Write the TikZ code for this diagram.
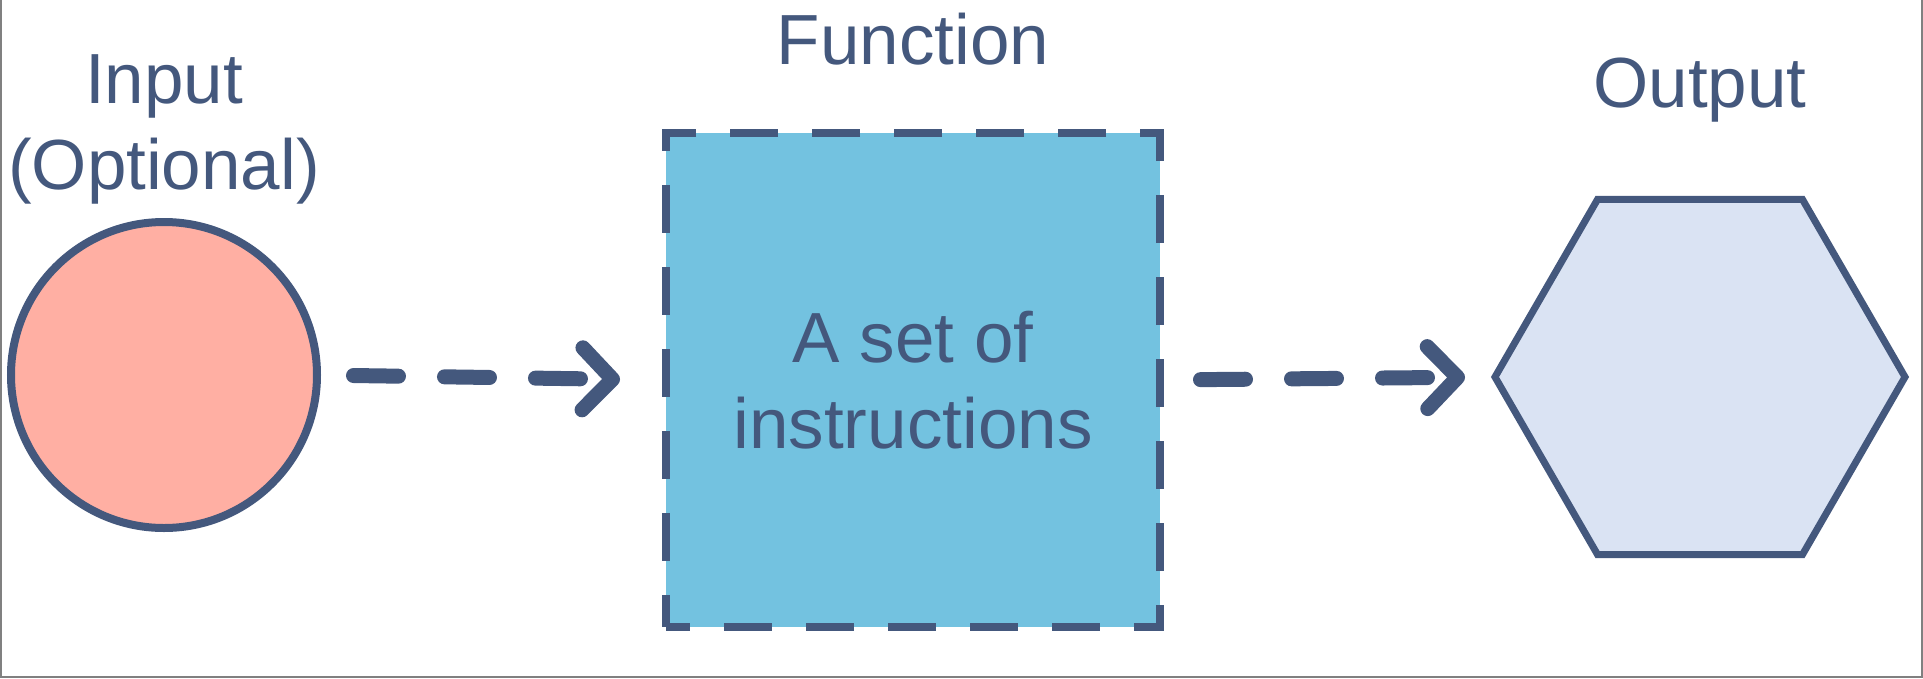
\documentclass[tikz,border=0pt]{standalone}
\usepackage{xcolor}
\usepackage{fontspec}
\setmainfont{Liberation Sans}
\usetikzlibrary{positioning,arrows.meta,shapes.geometric}
\definecolor{ink}{HTML}{44587D}
\definecolor{salmon}{HTML}{FFAFA3}
\definecolor{sky}{HTML}{73C2E0}
\definecolor{pale}{HTML}{DAE3F3}
\begin{document}
\begin{tikzpicture}[x=1pt,y=-1pt,
  every node/.style={inner sep=0pt,outer sep=0pt,text=ink,font=\fontsize{71}{86}\selectfont},
  link/.style={ink,line width=15pt,line cap=round,dash pattern=on 45pt off 46pt,
    -{Straight Barb[length=30pt,width=62pt,line width=15pt 0,round]}}]
\useasboundingbox (0,0) rectangle (1923,678);
\draw[gray,line width=2pt] (1,0) -- (1,677) -- (1922,677) -- (1922,0);
% the three boxes
\node[circle,draw=ink,fill=salmon,line width=8pt,minimum size=306pt] (in) at (164,375) {};
\node[rectangle,draw=ink,fill=sky,line width=8pt,minimum size=494pt,
  dash pattern=on 48pt off 34pt,dash phase=24pt,align=center] (fn) at (913,380)
  {A set of\\instructions};
\node[regular polygon,regular polygon sides=6,draw=ink,fill=pale,line width=7pt,
  minimum size=410pt] (out) at (1700,377) {};
% titles
\node[align=center,above=18pt of in] (inlbl) {Input\\(Optional)};
\node[above=68pt of fn] (fnlbl) {Function};
\node[above=77pt of out] (outlbl) {Output};
% arrows
\draw[link,shorten <=36.5pt,shorten >=46pt] (in.east) -- (fn.west);
\draw[link,shorten <=40.5pt,shorten >=30pt] (fn.east) -- (out.west);
\end{tikzpicture}
\end{document}
